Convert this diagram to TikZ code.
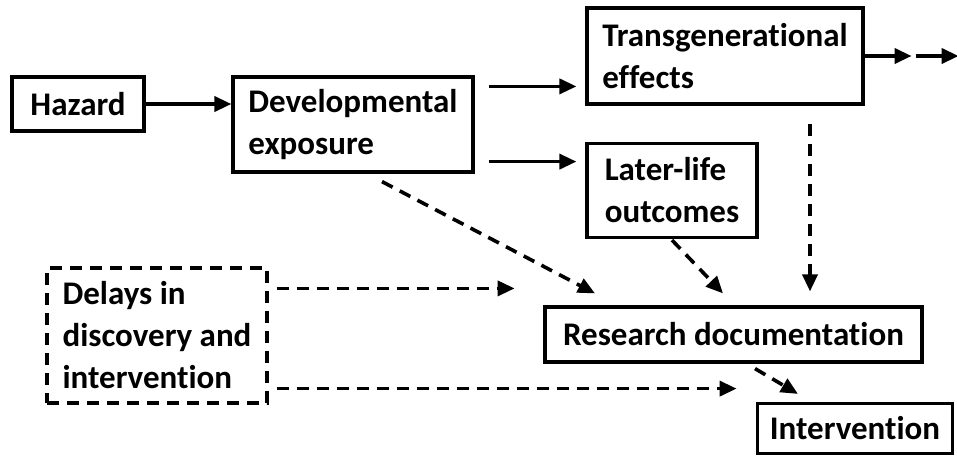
\documentclass[tikz,border=0pt]{standalone}
\usepackage{fontspec}
\setmainfont{Carlito}[Ligatures=NoCommon]
\usepackage{tikz}
\usetikzlibrary{arrows.meta, calc}

\begin{document}
\begin{tikzpicture}[
    x=0.5pt, y=-0.5pt,
    box/.style={draw, line width=1.6pt, inner sep=0pt, align=left, font=\fontsize{16.5}{21}\selectfont\bfseries},
    arrow/.style={-{Triangle[length=8.5pt, width=7.5pt]}, line width=1.8pt},
    dasharrow/.style={arrow, dash pattern=on 6pt off 4pt}
]
    \useasboundingbox (0,0) rectangle (957,456);

    % Boxes
    \node[box, minimum width=66pt, minimum height=27pt] (hazard) at (78,104) {Hazard};
    \node[box, minimum width=120pt, minimum height=47.5pt] (devel) at (353,124.5) {Developmental\\exposure};
    \node[box, minimum width=138pt, minimum height=48pt] (trans) at (725,56) {Transgenerational\\effects};
    \node[box, minimum width=85pt, minimum height=47pt] (later) at (672,190.5) {Later-life\\outcomes};
    \node[box, minimum width=188.5pt, minimum height=27.5pt] (research) at (733.5,334.5) {Research documentation};
    \node[box, minimum width=97.5pt, minimum height=25pt] (interv) at (855,428.5) {Intervention};
    \node[box, dash pattern=on 6pt off 4pt, minimum width=110pt, minimum height=67.5pt] (delays) at (157,335.5) {Delays in\\discovery and\\intervention};

    % Solid arrows
    \draw[arrow] (hazard.east) -- (hazard.east -| devel.west);
    \draw[arrow, shorten >=4.5pt] ($(devel.north east)+(14,11)$) coordinate (d1) -- (d1 -| trans.west);
    \draw[arrow, shorten >=4.5pt] ($(devel.south east)+(14,-12)$) coordinate (d2) -- (d2 -| later.west);
    \draw[arrow] (trans.east) -- ++(47,0);
    \draw[arrow] ($(trans.east)+(51,0)$) -- ++(43,0);

    % Dashed arrows
    \draw[dasharrow] ($(devel.south)+(29,8)$) -- ($(research.north)+(-138.5,-12)$);
    \draw[dasharrow] ($(later.south)+(0,1)$) -- ($(research.north)+(-10.5,-12)$);
    \draw[dasharrow, shorten >=7pt] ($(trans.south)+(85,18)$) coordinate (t1) -- (t1 |- research.north);
    \draw[dasharrow] ($(research.south)+(21.5,5)$) -- ($(interv.north)+(-57,-8)$);
    \draw[dasharrow] ($(delays.north east)+(8,22)$) -- ++(238,0);
    \draw[dasharrow] ($(delays.south east)+(8,-16)$) -- ++(460,0);
\end{tikzpicture}
\end{document}
